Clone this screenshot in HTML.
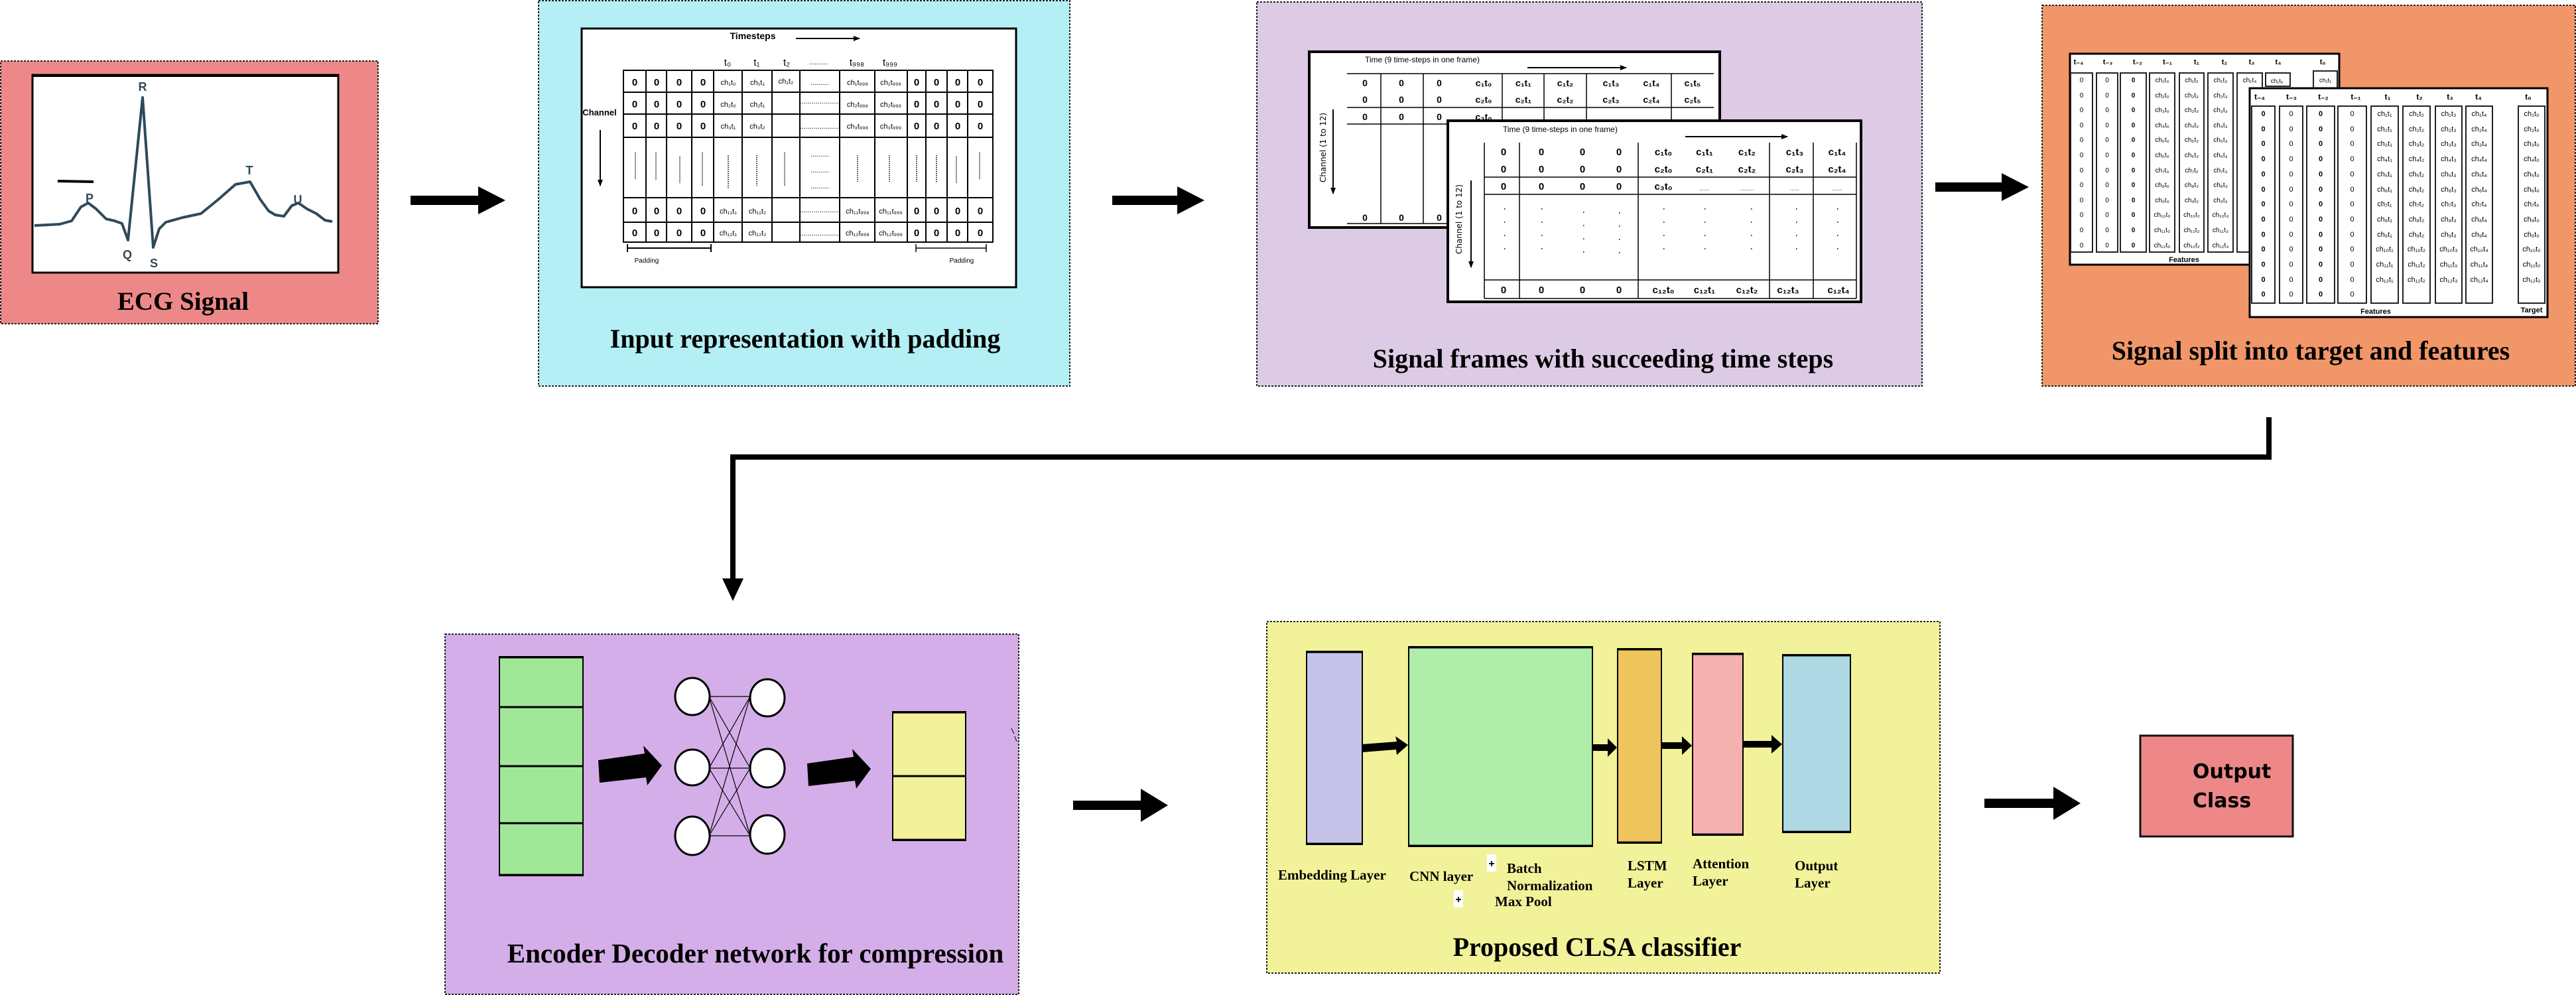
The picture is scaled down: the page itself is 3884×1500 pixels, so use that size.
<!DOCTYPE html>
<html><head><meta charset="utf-8">
<style>
html,body{margin:0;padding:0;background:#fff;}
body{width:3884px;height:1500px;position:relative;overflow:hidden;font-family:"Liberation Sans","DejaVu Sans",sans-serif;}
svg{position:absolute;left:0;top:0;}
.col{position:absolute;text-align:center;font-family:"Liberation Sans",sans-serif;color:#000;}
.b{font-size:10px;line-height:22.6px;}
.f{font-size:11px;line-height:22.7px;}
</style></head><body>
<svg width="3884" height="1500" viewBox="0 0 3884 1500" xmlns="http://www.w3.org/2000/svg">
<defs>
<marker id="ah" markerWidth="10" markerHeight="10" refX="9" refY="5" orient="auto" markerUnits="userSpaceOnUse"><path d="M0,1 L10,5 L0,9 z" fill="#000"/></marker>
</defs>
<g font-family="Liberation Serif, serif" font-weight="bold">
<rect x="1" y="92" width="569" height="396" fill="#ee8888" stroke="#222" stroke-width="2" stroke-dasharray="3,2"/>
<rect x="49" y="113" width="461" height="298" fill="#fff" stroke="#000" stroke-width="3"/>
<line x1="49" y1="114" x2="510" y2="114" stroke="#000" stroke-width="4"/>
<polyline points="52,340 90,338 108,333 122,312 133,306 145,315 160,330 173,333 184,337 193,362 215,147 231,373 240,345 250,335 275,328 303,322 330,300 355,278 377,274 392,300 405,318 415,324 428,326 440,310 450,306 463,315 477,322 490,332 501,334" fill="none" stroke="#2e4a5a" stroke-width="4" stroke-linejoin="round"/>
<line x1="87" y1="273" x2="141" y2="274" stroke="#000" stroke-width="4"/>
<g font-family="Liberation Sans, sans-serif" font-size="18" fill="#2e4a5a" text-anchor="middle" font-weight="bold">
<text x="215" y="137">R</text><text x="135" y="305">P</text><text x="192" y="390">Q</text><text x="232" y="403">S</text><text x="376" y="263">T</text><text x="449" y="307">U</text>
</g>
<text x="276" y="467" font-size="39" text-anchor="middle">ECG Signal</text>

<rect x="812" y="1" width="801" height="581" fill="#b3eff5" stroke="#222" stroke-width="2" stroke-dasharray="3,2"/>
<rect x="877" y="43" width="655" height="390" fill="#fff" stroke="#000" stroke-width="3"/>
<text x="1214" y="524" font-size="40" text-anchor="middle">Input representation with padding</text>

<rect x="1895" y="3" width="1003" height="579" fill="#ddcbe5" stroke="#222" stroke-width="2" stroke-dasharray="3,2"/>
<text x="2417" y="554" font-size="40" text-anchor="middle">Signal frames with succeeding time steps</text>

<rect x="3079" y="8" width="804" height="574" fill="#f09668" stroke="#222" stroke-width="2" stroke-dasharray="3,2"/>
<text x="3484" y="542" font-size="40" text-anchor="middle">Signal split into target and features</text>

<rect x="671" y="956" width="865" height="543" fill="#d4aee8" stroke="#222" stroke-width="2" stroke-dasharray="3,2"/>
<text x="1139" y="1451" font-size="41" text-anchor="middle">Encoder Decoder network for compression</text>

<rect x="1910" y="937" width="1015" height="530" fill="#f2f29a" stroke="#222" stroke-width="2" stroke-dasharray="3,2"/>
<text x="2408" y="1441" font-size="40" text-anchor="middle">Proposed CLSA classifier</text>
</g>

<g fill="#000">
<path d="M619,295 h102 v-14 l41,21 l-41,21 v-14 h-102 z"/>
<path d="M1677,295 h98 v-14 l41,21 l-41,21 v-14 h-98 z"/>
<path d="M2918,275 h100 v-14 l41,21 l-41,21 v-14 h-100 z"/>
<path d="M1618,1207 h102 v-18 l41,25 l-41,25 v-18 h-102 z"/>
<path d="M2992,1204 h104 v-18 l41,25 l-41,25 v-18 h-104 z"/>
</g>
<polyline points="3421,629 3421,689 1105,689 1105,880" fill="none" stroke="#000" stroke-width="8"/>
<path d="M1089,872 L1121,872 L1105,906 z" fill="#000"/>

<rect x="3227" y="1109" width="230" height="152" fill="#ee8888" stroke="#111" stroke-width="3"/>
<g font-family="DejaVu Sans, sans-serif" font-weight="bold" font-size="30">
<text x="3306" y="1173">Output</text><text x="3306" y="1217">Class</text>
</g>

<g font-family="Liberation Sans, sans-serif">
<text x="1135" y="59" font-size="14" font-weight="bold" text-anchor="middle">Timesteps</text>
<line x1="1200" y1="58" x2="1296" y2="58" stroke="#000" stroke-width="2" marker-end="url(#ah)"/>
<g font-size="15" text-anchor="middle">
<text x="1097" y="99">t₀</text><text x="1141" y="99">t₁</text><text x="1186" y="99">t₂</text><text x="1234" y="97" font-size="10">..........</text><text x="1292" y="99">t₉₉₈</text><text x="1342" y="99">t₉₉₉</text>
</g>
<rect x="940" y="106" width="557" height="259" fill="#fff" stroke="#000" stroke-width="2"/>
<g stroke="#000" stroke-width="2">
<line x1="940" y1="139" x2="1497" y2="139"/><line x1="940" y1="172" x2="1497" y2="172"/><line x1="940" y1="207" x2="1497" y2="207"/><line x1="940" y1="298" x2="1497" y2="298"/><line x1="940" y1="335" x2="1497" y2="335"/>
<line x1="974" y1="106" x2="974" y2="365"/><line x1="1005" y1="106" x2="1005" y2="365"/><line x1="1043" y1="106" x2="1043" y2="365"/><line x1="1076" y1="106" x2="1076" y2="365"/><line x1="1119" y1="106" x2="1119" y2="365"/><line x1="1164" y1="106" x2="1164" y2="365"/><line x1="1206" y1="106" x2="1206" y2="365"/><line x1="1266" y1="106" x2="1266" y2="365"/><line x1="1319" y1="106" x2="1319" y2="365"/><line x1="1368" y1="106" x2="1368" y2="365"/><line x1="1396" y1="106" x2="1396" y2="365"/><line x1="1428" y1="106" x2="1428" y2="365"/><line x1="1459" y1="106" x2="1459" y2="365"/>
</g>
<g font-size="15" font-weight="bold" text-anchor="middle">
<text x="957" y="129">0</text><text x="990" y="129">0</text><text x="1024" y="129">0</text><text x="1060" y="129">0</text><text x="1382" y="129">0</text><text x="1412" y="129">0</text><text x="1444" y="129">0</text><text x="1478" y="129">0</text>
<text x="957" y="162">0</text><text x="990" y="162">0</text><text x="1024" y="162">0</text><text x="1060" y="162">0</text><text x="1382" y="162">0</text><text x="1412" y="162">0</text><text x="1444" y="162">0</text><text x="1478" y="162">0</text>
<text x="957" y="195">0</text><text x="990" y="195">0</text><text x="1024" y="195">0</text><text x="1060" y="195">0</text><text x="1382" y="195">0</text><text x="1412" y="195">0</text><text x="1444" y="195">0</text><text x="1478" y="195">0</text>
<text x="957" y="323">0</text><text x="990" y="323">0</text><text x="1024" y="323">0</text><text x="1060" y="323">0</text><text x="1382" y="323">0</text><text x="1412" y="323">0</text><text x="1444" y="323">0</text><text x="1478" y="323">0</text>
<text x="957" y="356">0</text><text x="990" y="356">0</text><text x="1024" y="356">0</text><text x="1060" y="356">0</text><text x="1382" y="356">0</text><text x="1412" y="356">0</text><text x="1444" y="356">0</text><text x="1478" y="356">0</text>
</g>
<g font-size="11" text-anchor="middle">
<text x="1098" y="128">ch₁t₀</text><text x="1142" y="128">ch₁t₁</text><text x="1185" y="126">ch₁t₂</text><text x="1236" y="128">.........</text><text x="1293" y="128">ch₁t₉₉₈</text><text x="1343" y="128">ch₁t₉₉₉</text>
<text x="1098" y="161">ch₂t₀</text><text x="1142" y="161">ch₂t₁</text><text x="1236" y="156">....................</text><text x="1293" y="161">ch₂t₉₉₈</text><text x="1343" y="161">ch₂t₉₉₉</text>
<text x="1098" y="194">ch₃t₁</text><text x="1142" y="194">ch₃t₂</text><text x="1236" y="194">....................</text><text x="1293" y="194">ch₃t₉₉₈</text><text x="1343" y="194">ch₃t₉₉₉</text>
<text x="1098" y="322">ch₁₁t₁</text><text x="1142" y="322">ch₁₁t₂</text><text x="1236" y="320">....................</text><text x="1293" y="322">ch₁₁t₉₉₈</text><text x="1343" y="322">ch₁₁t₉₉₉</text>
<text x="1098" y="355">ch₁₂t₁</text><text x="1142" y="355">ch₁₂t₂</text><text x="1236" y="355">....................</text><text x="1293" y="355">ch₁₂t₉₉₈</text><text x="1343" y="355">ch₁₂t₉₉₉</text>
<text x="1236" y="236">.........</text><text x="1236" y="260">.........</text><text x="1236" y="284">.........</text>
</g>
<g stroke="#000" stroke-width="1.5" stroke-dasharray="1.5,1.5">
<line x1="958" y1="230" x2="958" y2="270"/><line x1="989" y1="230" x2="989" y2="272"/><line x1="1025" y1="236" x2="1025" y2="276"/><line x1="1059" y1="230" x2="1059" y2="280"/><line x1="1098" y1="234" x2="1098" y2="284"/><line x1="1141" y1="234" x2="1141" y2="280"/><line x1="1183" y1="230" x2="1183" y2="280"/><line x1="1293" y1="234" x2="1293" y2="274"/><line x1="1341" y1="234" x2="1341" y2="274"/><line x1="1382" y1="234" x2="1382" y2="274"/><line x1="1412" y1="234" x2="1412" y2="276"/><line x1="1442" y1="236" x2="1442" y2="276"/><line x1="1477" y1="230" x2="1477" y2="270"/>
</g>
<text x="904" y="174" font-size="13" font-weight="bold" text-anchor="middle">Channel</text>
<line x1="905" y1="196" x2="905" y2="280" stroke="#000" stroke-width="2" marker-end="url(#ah)"/>
<path d="M946,368 v12 M946,374 h126 M1072,368 v12" stroke="#000" stroke-width="2" fill="none"/>
<path d="M1381,368 v12 M1381,374 h106 M1487,368 v12" stroke="#000" stroke-width="1.5" fill="none"/>
<text x="975" y="396" font-size="10" text-anchor="middle">Padding</text>
<text x="1450" y="396" font-size="10" text-anchor="middle">Padding</text>
</g>

<g font-family="Liberation Sans, sans-serif">
<rect x="1974" y="78" width="619" height="265" fill="#fff" stroke="#000" stroke-width="4"/>
<text x="2058" y="94" font-size="12">Time (9 time-steps in one frame)</text>
<line x1="2303" y1="102" x2="2452" y2="102" stroke="#000" stroke-width="2" marker-end="url(#ah)"/>
<g stroke="#000" stroke-width="1.5">
<line x1="2031" y1="111" x2="2584" y2="111"/><line x1="2031" y1="162" x2="2584" y2="162"/><line x1="2031" y1="187" x2="2584" y2="187"/><line x1="2031" y1="337" x2="2584" y2="337"/>
<line x1="2082" y1="111" x2="2082" y2="337"/><line x1="2146" y1="111" x2="2146" y2="337"/><line x1="2265" y1="111" x2="2265" y2="187"/><line x1="2328" y1="111" x2="2328" y2="187"/><line x1="2392" y1="111" x2="2392" y2="187"/><line x1="2520" y1="111" x2="2520" y2="187"/>
</g>
<g font-size="14" font-weight="bold" text-anchor="middle">
<text x="2058" y="130">0</text><text x="2113" y="130">0</text><text x="2170" y="130">0</text><text x="2237" y="130">c₁t₀</text><text x="2297" y="130">c₁t₁</text><text x="2360" y="130">c₁t₂</text><text x="2429" y="130">c₁t₃</text><text x="2490" y="130">c₁t₄</text><text x="2552" y="130">c₁t₅</text>
<text x="2058" y="155">0</text><text x="2113" y="155">0</text><text x="2170" y="155">0</text><text x="2237" y="155">c₂t₀</text><text x="2297" y="155">c₂t₁</text><text x="2360" y="155">c₂t₂</text><text x="2429" y="155">c₂t₃</text><text x="2490" y="155">c₂t₄</text><text x="2552" y="155">c₂t₅</text>
<text x="2058" y="181">0</text><text x="2113" y="181">0</text><text x="2170" y="181">0</text><text x="2237" y="181">c₃t₀</text>
<text x="2058" y="333">0</text><text x="2113" y="333">0</text><text x="2170" y="333">0</text>
</g>
<text transform="translate(1999,275) rotate(-90)" font-size="12" font-family="DejaVu Sans, sans-serif">Channel (1 to 12)</text>
<line x1="2010" y1="165" x2="2010" y2="292" stroke="#000" stroke-width="2" marker-end="url(#ah)"/>
<rect x="2183" y="182" width="623" height="273" fill="#fff" stroke="#000" stroke-width="4"/>
<text x="2266" y="199" font-size="12">Time (9 time-steps in one frame)</text>
<line x1="2541" y1="206" x2="2695" y2="206" stroke="#000" stroke-width="2" marker-end="url(#ah)"/>
<g stroke="#000" stroke-width="1.5">
<line x1="2238" y1="267" x2="2799" y2="267"/><line x1="2238" y1="293" x2="2799" y2="293"/><line x1="2238" y1="422" x2="2799" y2="422"/><line x1="2238" y1="450" x2="2799" y2="450"/>
<line x1="2238" y1="215" x2="2238" y2="450"/><line x1="2291" y1="215" x2="2291" y2="450"/><line x1="2470" y1="215" x2="2470" y2="450"/><line x1="2668" y1="215" x2="2668" y2="450"/><line x1="2734" y1="215" x2="2734" y2="450"/><line x1="2799" y1="215" x2="2799" y2="450"/>
</g>
<g font-size="15" font-weight="bold" text-anchor="middle">
<text x="2267" y="234">0</text><text x="2324" y="234">0</text><text x="2386" y="234">0</text><text x="2441" y="234">0</text><text x="2508" y="234">c₁t₀</text><text x="2570" y="234">c₁t₁</text><text x="2634" y="234">c₁t₂</text><text x="2706" y="234">c₁t₃</text><text x="2770" y="234">c₁t₄</text>
<text x="2267" y="260">0</text><text x="2324" y="260">0</text><text x="2386" y="260">0</text><text x="2441" y="260">0</text><text x="2508" y="260">c₂t₀</text><text x="2570" y="260">c₂t₁</text><text x="2634" y="260">c₂t₂</text><text x="2706" y="260">c₂t₃</text><text x="2770" y="260">c₂t₄</text>
<text x="2267" y="286">0</text><text x="2324" y="286">0</text><text x="2386" y="286">0</text><text x="2441" y="286">0</text><text x="2508" y="286">c₃t₀</text>
<text x="2267" y="442">0</text><text x="2324" y="442">0</text><text x="2386" y="442">0</text><text x="2441" y="442">0</text><text x="2508" y="442">c₁₂t₀</text><text x="2570" y="442">c₁₂t₁</text><text x="2634" y="442">c₁₂t₂</text><text x="2696" y="442">c₁₂t₃</text><text x="2772" y="442">c₁₂t₄</text>
</g>
<g font-size="8" text-anchor="middle"><text x="2570" y="287">.......</text><text x="2634" y="287">.........</text><text x="2706" y="287">......</text><text x="2770" y="287">.......</text></g>
<g fill="#333">
<rect x="2268" y="314" width="1.5" height="2"/><rect x="2268" y="334" width="1.5" height="2"/><rect x="2268" y="354" width="1.5" height="2"/><rect x="2268" y="374" width="1.5" height="2"/>
<rect x="2324" y="314" width="1.5" height="2"/><rect x="2324" y="334" width="1.5" height="2"/><rect x="2324" y="354" width="1.5" height="2"/><rect x="2324" y="374" width="1.5" height="2"/>
<rect x="2387" y="319" width="1.5" height="2"/><rect x="2387" y="339" width="1.5" height="2"/><rect x="2387" y="359" width="1.5" height="2"/><rect x="2387" y="379" width="1.5" height="2"/>
<rect x="2441" y="320" width="1.5" height="2"/><rect x="2441" y="340" width="1.5" height="2"/><rect x="2441" y="360" width="1.5" height="2"/><rect x="2441" y="380" width="1.5" height="2"/>
<rect x="2508" y="314" width="1.5" height="2"/><rect x="2508" y="334" width="1.5" height="2"/><rect x="2508" y="354" width="1.5" height="2"/><rect x="2508" y="374" width="1.5" height="2"/>
<rect x="2570" y="314" width="1.5" height="2"/><rect x="2570" y="334" width="1.5" height="2"/><rect x="2570" y="354" width="1.5" height="2"/><rect x="2570" y="374" width="1.5" height="2"/>
<rect x="2640" y="314" width="1.5" height="2"/><rect x="2640" y="334" width="1.5" height="2"/><rect x="2640" y="354" width="1.5" height="2"/><rect x="2640" y="374" width="1.5" height="2"/>
<rect x="2708" y="314" width="1.5" height="2"/><rect x="2708" y="334" width="1.5" height="2"/><rect x="2708" y="354" width="1.5" height="2"/><rect x="2708" y="374" width="1.5" height="2"/>
<rect x="2770" y="314" width="1.5" height="2"/><rect x="2770" y="334" width="1.5" height="2"/><rect x="2770" y="354" width="1.5" height="2"/><rect x="2770" y="374" width="1.5" height="2"/>
</g>
<text transform="translate(2204,383) rotate(-90)" font-size="12" font-family="DejaVu Sans, sans-serif">Channel (1 to 12)</text>
<line x1="2218" y1="272" x2="2218" y2="403" stroke="#000" stroke-width="2" marker-end="url(#ah)"/>
</g>

<g font-family="Liberation Sans, sans-serif">
<rect x="3121" y="81" width="406" height="318" fill="#fff" stroke="#000" stroke-width="3"/>
<g fill="none" stroke="#222" stroke-width="2">
<rect x="3122" y="110" width="33" height="270"/><rect x="3161" y="110" width="32" height="270"/><rect x="3197" y="110" width="39" height="270"/><rect x="3241" y="110" width="38" height="270"/><rect x="3286" y="110" width="37" height="270"/><rect x="3329" y="110" width="38" height="270"/><rect x="3373" y="110" width="38" height="270"/><rect x="3416" y="110" width="37" height="20"/><rect x="3488" y="107" width="36" height="26"/>
</g>
<g font-size="11" font-weight="bold" text-anchor="middle">
<text x="3134" y="97">t₋₄</text><text x="3178" y="97">t₋₃</text><text x="3223" y="97">t₋₂</text><text x="3268" y="97">t₋₁</text><text x="3312" y="97">t₁</text><text x="3354" y="97">t₂</text><text x="3395" y="97">t₃</text><text x="3435" y="97">t₄</text><text x="3502" y="97">t₀</text>
</g>
<text x="3293" y="395" font-size="11" font-weight="bold" text-anchor="middle">Features</text>
<text x="3433" y="125" font-size="9" text-anchor="middle">ch₁t₅</text><text x="3506" y="124" font-size="9" text-anchor="middle">ch₁t₁</text>

<rect x="3392" y="133" width="449" height="345" fill="#fff" stroke="#000" stroke-width="3"/>
<g fill="none" stroke="#222" stroke-width="2">
<rect x="3395" y="160" width="35" height="297"/><rect x="3437" y="160" width="35" height="297"/><rect x="3478" y="160" width="42" height="297"/><rect x="3525" y="160" width="43" height="297"/><rect x="3575" y="160" width="41" height="297"/><rect x="3623" y="160" width="41" height="297"/><rect x="3672" y="160" width="40" height="297"/><rect x="3718" y="160" width="40" height="297"/><rect x="3797" y="160" width="40" height="297"/>
</g>
<g font-size="12" font-weight="bold" text-anchor="middle">
<text x="3407" y="150">t₋₄</text><text x="3455" y="150">t₋₃</text><text x="3503" y="150">t₋₂</text><text x="3552" y="150">t₋₁</text><text x="3600" y="150">t₁</text><text x="3648" y="150">t₂</text><text x="3694" y="150">t₃</text><text x="3737" y="150">t₄</text><text x="3812" y="150">t₀</text>
</g>
<text x="3582" y="473" font-size="11" font-weight="bold" text-anchor="middle">Features</text>
<text x="3817" y="471" font-size="11" font-weight="bold" text-anchor="middle">Target</text>
</g>

<rect x="753" y="990" width="126" height="330" fill="#a0e898" stroke="#000" stroke-width="2"/>
<g stroke="#000" stroke-width="3"><line x1="753" y1="991" x2="879" y2="991"/><line x1="753" y1="1066" x2="879" y2="1066"/><line x1="753" y1="1155" x2="879" y2="1155"/><line x1="753" y1="1241" x2="879" y2="1241"/><line x1="753" y1="1319" x2="879" y2="1319"/></g>
<path d="M902,1146 l70,-10 l-2,-12 l28,30 l-22,30 l-2,-12 l-70,8 z" fill="#000"/>
<path d="M1217,1151 l70,-10 l-2,-12 l28,30 l-22,30 l-2,-12 l-70,8 z" fill="#000"/>
<g stroke="#000" stroke-width="1.2">
<line x1="1069" y1="1050" x2="1131" y2="1050"/><line x1="1069" y1="1050" x2="1131" y2="1158"/><line x1="1069" y1="1050" x2="1131" y2="1260"/>
<line x1="1069" y1="1158" x2="1131" y2="1050"/><line x1="1069" y1="1158" x2="1131" y2="1158"/><line x1="1069" y1="1158" x2="1131" y2="1260"/>
<line x1="1069" y1="1260" x2="1131" y2="1050"/><line x1="1069" y1="1260" x2="1131" y2="1158"/><line x1="1069" y1="1260" x2="1131" y2="1260"/>
</g>
<g fill="#fff" stroke="#000" stroke-width="3">
<ellipse cx="1044" cy="1050" rx="26" ry="28"/><ellipse cx="1157" cy="1052" rx="26" ry="28"/>
<ellipse cx="1044" cy="1157" rx="26" ry="27"/><ellipse cx="1157" cy="1158" rx="26" ry="29"/>
<ellipse cx="1044" cy="1260" rx="26" ry="29"/><ellipse cx="1157" cy="1258" rx="26" ry="29"/>
</g>
<rect x="1346" y="1073" width="110" height="194" fill="#f2f29a" stroke="#000" stroke-width="2"/>
<g stroke="#000" stroke-width="3"><line x1="1346" y1="1074" x2="1456" y2="1074"/><line x1="1346" y1="1170" x2="1456" y2="1170"/><line x1="1346" y1="1266" x2="1456" y2="1266"/></g>
<path d="M1525,1098 l4,8 M1530,1110 l3,8" stroke="#000" stroke-width="1"/>

<rect x="1970" y="982" width="84" height="291" fill="#c5c3ea" stroke="#000" stroke-width="2"/>
<line x1="1970" y1="983" x2="2054" y2="983" stroke="#000" stroke-width="3"/><line x1="1970" y1="1272" x2="2054" y2="1272" stroke="#000" stroke-width="3"/>
<rect x="2124" y="975" width="277" height="301" fill="#aeeeaa" stroke="#000" stroke-width="2"/>
<line x1="2124" y1="976" x2="2401" y2="976" stroke="#000" stroke-width="3"/><line x1="2124" y1="1275" x2="2401" y2="1275" stroke="#000" stroke-width="3"/>
<rect x="2439" y="978" width="66" height="293" fill="#f0c45c" stroke="#000" stroke-width="2"/>
<line x1="2439" y1="979" x2="2505" y2="979" stroke="#000" stroke-width="3"/><line x1="2439" y1="1270" x2="2505" y2="1270" stroke="#000" stroke-width="3"/>
<rect x="2552" y="985" width="76" height="274" fill="#f5b0b0" stroke="#000" stroke-width="2"/>
<line x1="2552" y1="986" x2="2628" y2="986" stroke="#000" stroke-width="3"/><line x1="2552" y1="1258" x2="2628" y2="1258" stroke="#000" stroke-width="3"/>
<rect x="2688" y="987" width="102" height="268" fill="#add8e4" stroke="#000" stroke-width="2"/>
<line x1="2688" y1="988" x2="2790" y2="988" stroke="#000" stroke-width="3"/><line x1="2688" y1="1254" x2="2790" y2="1254" stroke="#000" stroke-width="3"/>
<g fill="#000">
<path d="M2054,1122 l52,-4 l-2,-8 l19,13 l-17,15 l-1,-8 l-51,4 z"/>
<path d="M2402,1122 h22 v-9 l14,14 l-14,14 v-9 h-22 z"/>
<path d="M2506,1119 h30 v-9 l15,14 l-15,14 v-9 h-30 z"/>
<path d="M2629,1117 h42 v-9 l16,14 l-16,14 v-9 h-42 z"/>
</g>
<g font-family="Liberation Serif, serif" font-weight="bold" font-size="21">
<text x="1927" y="1326">Embedding Layer</text>
<text x="2125" y="1328">CNN layer</text>
<text x="2272" y="1316">Batch</text>
<text x="2272" y="1342">Normalization</text>
<text x="2254" y="1366">Max Pool</text>
<text x="2454" y="1312">LSTM</text><text x="2454" y="1338">Layer</text>
<text x="2552" y="1309">Attention</text><text x="2552" y="1335">Layer</text>
<text x="2706" y="1312">Output</text><text x="2706" y="1338">Layer</text>
</g>
<rect x="2242" y="1288" width="14" height="26" fill="#fff"/><text x="2249" y="1307" font-size="16" font-family="Liberation Sans, sans-serif" text-anchor="middle" font-weight="bold">+</text>
<rect x="2192" y="1342" width="14" height="26" fill="#fff"/><text x="2199" y="1361" font-size="16" font-family="Liberation Sans, sans-serif" text-anchor="middle" font-weight="bold">+</text>
</svg>

<div class="col b" style="left:3122px;top:111px;width:33px">0<br>0<br>0<br>0<br>0<br>0<br>0<br>0<br>0<br>0<br>0<br>0</div>
<div class="col b" style="left:3161px;top:111px;width:32px">0<br>0<br>0<br>0<br>0<br>0<br>0<br>0<br>0<br>0<br>0<br>0</div>
<div class="col b" style="left:3197px;top:111px;width:39px;font-weight:bold">0<br>0<br>0<br>0<br>0<br>0<br>0<br>0<br>0<br>0<br>0<br>0</div>
<div class="col b" style="left:3241px;top:111px;width:38px">ch₁t₀<br>ch₂t₀<br>ch₃t₀<br>ch₄t₀<br>ch₅t₀<br>ch₆t₀<br>ch₇t₀<br>ch₈t₀<br>ch₉t₀<br>ch₁₀t₀<br>ch₁₁t₀<br>ch₁₂t₀</div>
<div class="col b" style="left:3286px;top:111px;width:37px">ch₁t₂<br>ch₂t₂<br>ch₃t₂<br>ch₄t₂<br>ch₅t₂<br>ch₆t₂<br>ch₇t₂<br>ch₈t₂<br>ch₉t₂<br>ch₁₀t₂<br>ch₁₁t₂<br>ch₁₂t₂</div>
<div class="col b" style="left:3329px;top:111px;width:38px">ch₁t₃<br>ch₂t₃<br>ch₃t₃<br>ch₄t₃<br>ch₅t₃<br>ch₆t₃<br>ch₇t₃<br>ch₈t₃<br>ch₉t₃<br>ch₁₀t₃<br>ch₁₁t₃<br>ch₁₂t₃</div>
<div class="col b" style="left:3373px;top:111px;width:38px">ch₁t₄</div>
<div class="col f" style="left:3395px;top:161px;width:35px;font-weight:bold">0<br>0<br>0<br>0<br>0<br>0<br>0<br>0<br>0<br>0<br>0<br>0<br>0</div>
<div class="col f" style="left:3437px;top:161px;width:35px">0<br>0<br>0<br>0<br>0<br>0<br>0<br>0<br>0<br>0<br>0<br>0<br>0</div>
<div class="col f" style="left:3478px;top:161px;width:42px;font-weight:bold">0<br>0<br>0<br>0<br>0<br>0<br>0<br>0<br>0<br>0<br>0<br>0<br>0</div>
<div class="col f" style="left:3525px;top:161px;width:43px">0<br>0<br>0<br>0<br>0<br>0<br>0<br>0<br>0<br>0<br>0<br>0<br>0</div>
<div class="col f" style="left:3575px;top:161px;width:41px">ch₁t₁<br>ch₂t₁<br>ch₃t₁<br>ch₄t₁<br>ch₅t₁<br>ch₆t₁<br>ch₇t₁<br>ch₈t₁<br>ch₉t₁<br>ch₁₀t₁<br>ch₁₁t₁<br>ch₁₂t₁</div>
<div class="col f" style="left:3623px;top:161px;width:41px">ch₁t₂<br>ch₂t₂<br>ch₃t₂<br>ch₄t₂<br>ch₅t₂<br>ch₆t₂<br>ch₇t₂<br>ch₈t₂<br>ch₉t₂<br>ch₁₀t₂<br>ch₁₁t₂<br>ch₁₂t₂</div>
<div class="col f" style="left:3672px;top:161px;width:40px">ch₁t₃<br>ch₂t₃<br>ch₃t₃<br>ch₄t₃<br>ch₅t₃<br>ch₆t₃<br>ch₇t₃<br>ch₈t₃<br>ch₉t₃<br>ch₁₀t₃<br>ch₁₁t₃<br>ch₁₂t₃</div>
<div class="col f" style="left:3718px;top:161px;width:40px">ch₁t₄<br>ch₂t₄<br>ch₃t₄<br>ch₄t₄<br>ch₅t₄<br>ch₆t₄<br>ch₇t₄<br>ch₈t₄<br>ch₉t₄<br>ch₁₀t₄<br>ch₁₁t₄<br>ch₁₂t₄</div>
<div class="col f" style="left:3797px;top:161px;width:40px">ch₁t₀<br>ch₂t₀<br>ch₃t₀<br>ch₄t₀<br>ch₅t₀<br>ch₆t₀<br>ch₇t₀<br>ch₈t₀<br>ch₉t₀<br>ch₁₀t₀<br>ch₁₁t₀<br>ch₁₂t₀</div>
</body></html>
